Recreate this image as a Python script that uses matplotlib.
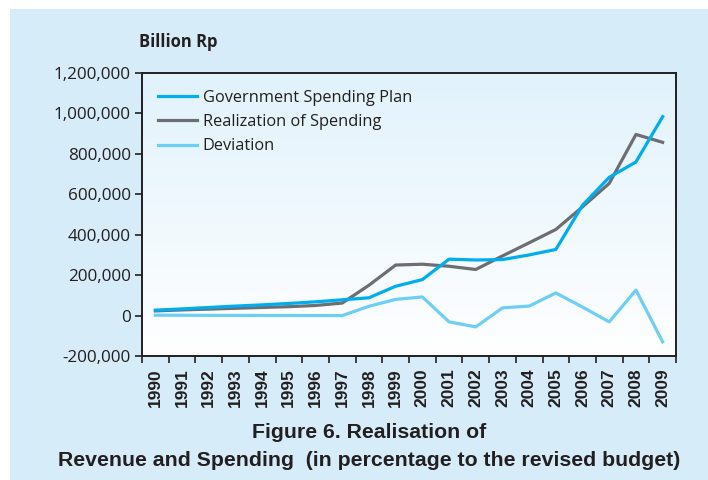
import numpy as np
import matplotlib
matplotlib.use("Agg")
import matplotlib.pyplot as plt
import matplotlib.patches as patches
from matplotlib.colors import LinearSegmentedColormap

# data (billion Rp)
years = [str(y) for y in range(1990, 2010)]
plan = [27000, 33000, 40000, 47000, 53000, 60000, 68000, 78000, 88000, 145000,
        178000, 279000, 275000, 277000, 300000, 327000, 546000, 684000, 760000, 984000]
realization = [23000, 28000, 32000, 36000, 40000, 44000, 50000, 62000, 150000, 250000,
               254000, 244000, 228000, 295000, 360000, 426000, 538000, 654000, 896000, 857000]
deviation = [2000, 1500, 1000, 800, 500, 300, 200, 0, 46000, 80000,
             92000, -31000, -56000, 38000, 47000, 112000, 42000, -31000, 126000, -130000]
yticks = [-200000, 0, 200000, 400000, 600000, 800000, 1000000, 1200000]

TXT = '#231F20'
BG = '#D6ECF9'

fig = plt.figure(figsize=(7.08, 4.8), dpi=100)
fig.patch.set_facecolor('white')
fig.patches.append(patches.Rectangle((10 / 708, 0), 1, 1 - 9 / 480, transform=fig.transFigure,
                                     facecolor=BG, edgecolor='none', zorder=-10))

ax = fig.add_axes([142 / 708, 1 - 356 / 480, 534 / 708, 283 / 480])
ax.set_facecolor('none')

# soft blue-to-white gradient inside the plot box
grad = LinearSegmentedColormap.from_list('g', ['#FFFFFF', '#E1F2FC'])
ax.imshow(np.linspace(0, 1, 256).reshape(-1, 1), cmap=grad, origin='lower', aspect='auto',
          extent=[0, 1, 0, 1], transform=ax.transAxes, zorder=0)

x = np.arange(len(years))
ax.plot(x, plan, color='#00AEEF', lw=2.3, label='Government Spending Plan', zorder=3)
ax.plot(x, realization, color='#6D6E71', lw=2.3, label='Realization of Spending', zorder=2)
ax.plot(x, deviation, color='#6DCFF6', lw=2.3, label='Deviation', zorder=2)

ax.set_xlim(-0.5, len(years) - 0.5)
ax.set_ylim(-200000, 1200000)
ax.set_yticks(yticks)
ax.set_yticklabels([f'{v:,}' for v in yticks], family='Open Sans', fontsize=12.3, color=TXT)
ax.set_xticks(x)
ax.set_xticklabels(years, rotation=90, fontweight='bold', fontsize=12.5,
                   family=['Liberation Sans Narrow', 'Liberation Sans'], color=TXT)
ax.set_xticks(np.arange(-0.5, len(years)), minor=True)
ax.tick_params(axis='x', which='major', length=0, pad=9)
ax.tick_params(axis='x', which='minor', length=5, width=1.2, color=TXT, direction='out')
ax.tick_params(axis='y', length=5, width=1.2, color=TXT, direction='out', pad=3)
for s in ax.spines.values():
    s.set_color(TXT)
    s.set_linewidth(1.4)

leg = ax.legend(loc='upper left', frameon=False, handlelength=2.4, handletextpad=0.35,
                labelspacing=0.5, borderaxespad=0.55, bbox_to_anchor=(0.0, 0.995),
                prop={'family': 'Open Sans', 'size': 11.8})
for t in leg.get_texts():
    t.set_color(TXT)

fig.text(139 / 708, 1 - 42 / 480, 'Billion Rp', fontsize=12, fontweight='bold',
         family='Open Sans', color=TXT, va='center', ha='left')
fig.text(369 / 708, 1 - 433 / 480, 'Figure 6. Realisation of', fontsize=15.3, fontweight='bold',
         family='Liberation Sans', color=TXT, ha='center', va='center')
fig.text(369 / 708, 1 - 461 / 480, 'Revenue and Spending  (in percentage to the revised budget)',
         fontsize=15.3, fontweight='bold', family='Liberation Sans', color=TXT,
         ha='center', va='center')

fig.savefig('out.png', dpi=100)
